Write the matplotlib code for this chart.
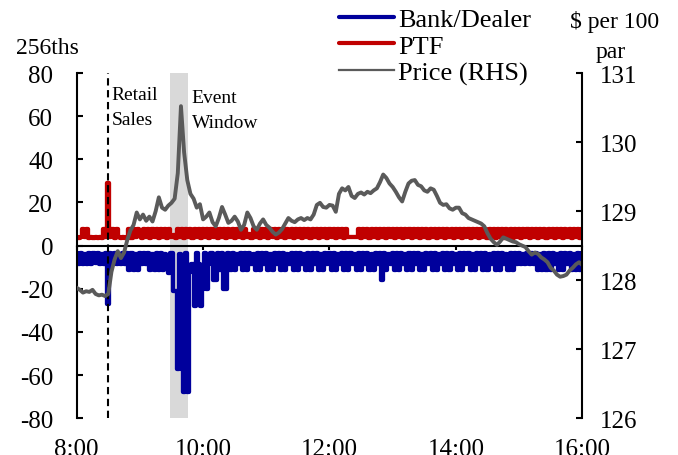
import numpy as np
import matplotlib
matplotlib.use("Agg")
import matplotlib.pyplot as plt
from matplotlib.lines import Line2D

plt.rcParams['font.family'] = ['Liberation Serif', 'DejaVu Serif']
plt.rcParams['axes.unicode_minus'] = False
plt.rcParams['path.simplify'] = False   # keep every back-and-forth step

# order flow in 256ths, one value every 2 minutes from 8:00 to 16:00
flow_step = 2
bank_dealer = [
    -3.6, -8.7, -3.6, -8.5, -3.8, -8.7, -3.6, -8.7, -3.6, -8.2, -3.6, -8.7, -3.8, -8.7, -3.6,
    -27, -3.6, -8.7, -3.6, -8.7, -3.8, -8.5, -3.6, -8.7, -3.6, -11.5, -3.6, -11.5, -3.8, -11.5,
    -3.6, -8.7, -3.6, -8.7, -3.6, -11.5, -3.8, -11.5, -3.6, -11.5, -3.6, -11.5, -3.8, -8.7, -12.5,
    -3.6, -21, -21, -57, -3.8, -57, -68, -3.6, -68, -12, -8.7, -28, -3.6, -8.7, -28,
    -20, -3.6, -20, -8.7, -3.6, -16, -16, -3.6, -11.5, -3.6, -20, -20, -3.6, -11.5, -3.6,
    -11.5, -3.8, -8.7, -3.6, -11.5, -3.6, -11.5, -3.6, -8.7, -3.8, -11.5, -3.6, -11.5, -3.6, -8.7,
    -3.6, -11.5, -3.8, -11.5, -3.6, -8.7, -3.6, -11.5, -3.6, -11.5, -3.8, -8.7, -3.6, -11.5, -3.6,
    -11.5, -3.6, -8.7, -3.8, -11.5, -3.6, -11.5, -3.6, -8.7, -3.6, -11.5, -3.8, -11.5, -3.6, -8.7,
    -3.6, -11.5, -3.6, -11.5, -3.8, -8.7, -3.6, -11.5, -3.6, -11.5, -3.6, -8.7, -3.8, -11.5, -3.6,
    -11.5, -3.6, -8.7, -3.6, -11.5, -3.8, -11.5, -3.6, -8.7, -3.6, -16, -3.6, -11.5, -3.8, -8.7,
    -3.6, -11.5, -3.6, -11.5, -3.6, -8.7, -3.8, -11.5, -3.6, -11.5, -3.6, -8.7, -3.6, -11.5, -3.8,
    -11.5, -3.6, -8.7, -3.6, -11.5, -3.6, -11.5, -3.8, -8.7, -3.6, -11.5, -3.6, -11.5, -3.6, -8.7,
    -3.8, -11.5, -3.6, -11.5, -3.6, -8.7, -3.6, -11.5, -3.8, -11.5, -3.6, -8.7, -3.6, -11.5, -3.6,
    -11.5, -3.8, -8.7, -3.6, -11.5, -3.6, -11.5, -3.6, -8.7, -3.8, -11.5, -3.6, -11.5, -3.6, -8.7,
    -3.6, -8.7, -3.8, -8.7, -3.6, -8.5, -3.6, -8.7, -3.6, -11.5, -3.8, -11.5, -3.6, -11.5, -3.6,
    -11.5, -3.6, -8.7, -3.8, -11.5, -3.6, -11.5, -3.6, -8.7, -3.6, -11.5, -3.8, -11.5, -3.6, -11.5,
    -3.6,
]
ptf = [
    3.8, 3.6, 3.8, 7.7, 3.8, 7.7, 3.6, 3.8, 3.6, 3.8, 3.6, 3.8, 3.6, 7.7, 3.8,
    29, 3.8, 7.7, 3.6, 7.7, 3.8, 3.6, 3.8, 3.6, 3.8, 7.7, 3.6, 7.7, 3.8, 7.7,
    5.0, 3.6, 7.7, 3.8, 7.7, 3.6, 7.7, 3.8, 7.7, 3.6, 7.7, 3.8, 7.7, 3.6, 7.7,
    3.8, 4.8, 3.6, 7.7, 3.8, 7.7, 3.6, 7.7, 3.8, 7.7, 3.6, 7.7, 3.8, 7.7, 3.6,
    7.7, 3.8, 7.7, 3.6, 7.7, 3.8, 7.7, 3.6, 7.7, 3.8, 7.7, 3.6, 7.7, 3.8, 7.7,
    3.6, 7.7, 3.8, 7.7, 3.6, 7.7, 3.8, 5.2, 3.6, 7.7, 3.8, 7.7, 3.6, 7.7, 3.8,
    7.7, 3.6, 7.7, 3.8, 7.7, 3.6, 7.7, 3.8, 7.7, 3.6, 7.7, 3.8, 7.7, 3.6, 7.7,
    3.8, 7.7, 3.6, 7.7, 3.8, 7.7, 3.6, 7.7, 3.8, 7.7, 3.6, 7.7, 3.8, 7.7, 3.6,
    7.7, 3.8, 7.7, 3.6, 7.7, 3.8, 7.7, 3.6, 7.7, 3.8, 4.2, 4.0, 4.2, 3.8, 7.7,
    3.6, 7.7, 3.8, 7.7, 3.6, 7.7, 3.8, 7.7, 3.6, 7.7, 3.8, 7.7, 3.6, 7.7, 3.8,
    7.7, 3.6, 7.7, 3.8, 7.7, 3.6, 7.7, 3.8, 7.7, 3.6, 7.7, 3.8, 7.7, 3.6, 7.7,
    3.8, 7.7, 3.6, 7.7, 3.8, 7.7, 3.6, 7.7, 3.8, 7.7, 3.6, 7.7, 3.8, 7.7, 3.6,
    7.7, 3.8, 7.7, 3.6, 7.7, 3.8, 7.7, 3.6, 7.7, 3.8, 7.7, 3.6, 7.7, 3.8, 7.7,
    3.6, 7.7, 3.8, 7.7, 3.6, 7.7, 3.8, 7.7, 3.6, 7.7, 3.8, 7.7, 3.6, 7.7, 3.8,
    7.7, 3.6, 7.7, 3.8, 7.7, 3.6, 7.7, 3.8, 7.7, 3.6, 7.7, 3.8, 7.7, 3.6, 7.7,
    3.8, 7.7, 3.6, 7.7, 3.8, 7.7, 3.6, 7.7, 3.8, 7.7, 3.6, 7.7, 3.8, 7.7, 3.6,
    7.7,
]

# price in $ per 100 par, one value every 3 minutes
price_step = 3
price = [
    127.89, 127.86, 127.82, 127.84, 127.83, 127.86, 127.80, 127.78, 127.79, 127.77,
    127.80, 128.12, 128.30, 128.42, 128.32, 128.40, 128.58, 128.72, 128.80, 128.98,
    128.88, 128.95, 128.86, 128.92, 128.85, 129.00, 129.20, 129.05, 129.02, 129.08,
    129.12, 129.18, 129.55, 130.52, 129.85, 129.45, 129.25, 129.18, 129.05, 129.10,
    128.88, 128.92, 128.98, 128.84, 128.78, 128.90, 129.06, 128.95, 128.83, 128.86,
    128.92, 128.85, 128.73, 128.80, 128.98, 128.90, 128.78, 128.73, 128.82, 128.88,
    128.80, 128.76, 128.70, 128.66, 128.69, 128.74, 128.82, 128.90, 128.86, 128.84,
    128.88, 128.90, 128.87, 128.90, 128.88, 128.95, 129.09, 129.12, 129.06, 129.05,
    129.09, 129.08, 128.99, 129.25, 129.33, 129.30, 129.35, 129.22, 129.19, 129.25,
    129.27, 129.24, 129.28, 129.26, 129.30, 129.33, 129.42, 129.53, 129.48, 129.40,
    129.35, 129.28, 129.20, 129.14, 129.28, 129.40, 129.44, 129.45, 129.38, 129.36,
    129.30, 129.28, 129.33, 129.31, 129.22, 129.12, 129.09, 129.10, 129.04, 129.02,
    129.05, 129.05, 128.97, 128.95, 128.90, 128.88, 128.86, 128.84, 128.82, 128.78,
    128.68, 128.60, 128.55, 128.51, 128.56, 128.62, 128.60, 128.58, 128.56, 128.55,
    128.52, 128.50, 128.48, 128.42, 128.37, 128.40, 128.38, 128.33, 128.30, 128.26,
    128.18, 128.14, 128.08, 128.05, 128.06, 128.08, 128.14, 128.18, 128.23, 128.26,
    128.22,
]

tick_minutes = [0, 120, 240, 360, 480]
tick_labels = ['8:00', '10:00', '12:00', '14:00', '16:00']
retail_sales = 30          # 8:30
event_window = (88.5, 105.5)

blue = '#00009C'
red = '#C00000'
grey = '#5A5A5A'

flow_t = np.arange(len(bank_dealer)) * flow_step
price_t = np.arange(len(price)) * price_step

fig = plt.figure(figsize=(6.78, 4.56), dpi=100)
ax = fig.add_axes([0.1131, 0.0805, 0.7457, 0.7572])
ax2 = ax.twinx()

ax.axvspan(event_window[0], event_window[1], color='#D9D9D9', lw=0, zorder=0)
# minute data drawn as steps so the thick line fills a solid band
ax.plot(flow_t, ptf, color=red, lw=3.1, drawstyle='steps-mid',
        solid_joinstyle='round', solid_capstyle='round', zorder=2)
ax.plot(flow_t, bank_dealer, color=blue, lw=3.1, drawstyle='steps-mid',
        solid_joinstyle='round', solid_capstyle='round', zorder=2)
ax.axvline(retail_sales, color='black', lw=1.5, ls=(0, (3.5, 2.2)), zorder=3)
ax2.plot(price_t, price, color=grey, lw=2.8, solid_joinstyle='round')

ax.set_xlim(0, 480)
ax.set_ylim(-80, 80)
ax2.set_ylim(126, 131)

for s in ['top', 'right']:
    ax.spines[s].set_visible(False)
for s in ['top', 'bottom', 'left']:
    ax2.spines[s].set_visible(False)
ax.spines['bottom'].set_position(('data', 0))
for s in [ax.spines['left'], ax.spines['bottom'], ax2.spines['right']]:
    s.set_linewidth(1.5)

ax.set_xticks(tick_minutes)
ax.tick_params(axis='x', direction='out', length=3, width=1.5, labelbottom=False)
sec = ax.secondary_xaxis('bottom')
sec.set_xticks(tick_minutes, tick_labels)
sec.tick_params(length=0, pad=14, labelsize=18)
sec.spines['bottom'].set_visible(False)

ax.set_yticks(range(-80, 81, 20))
ax.tick_params(axis='y', direction='in', length=4.5, width=1.5, pad=17, labelsize=18)
ax2.set_yticks(range(126, 132))
ax2.tick_params(axis='y', direction='in', length=4.5, width=1.5, pad=12.5, labelsize=18)

ax.text(33, 67.9, 'Retail', fontsize=14, va='baseline')
ax.text(33, 56.4, 'Sales', fontsize=14, va='baseline')
ax.text(109, 66.4, 'Event', fontsize=14, va='baseline')
ax.text(109, 54.8, 'Window', fontsize=14, va='baseline')

fig.text(47.5 / 678, 1 - 54 / 456, '256ths', fontsize=17, ha='center', va='baseline')
fig.text(615 / 678, 1 - 28.3 / 456, '$ per 100', fontsize=17, ha='center', va='baseline')
fig.text(611 / 678, 1 - 58.3 / 456, 'par', fontsize=17, ha='center', va='baseline')

handles = [Line2D([], [], color=blue, lw=3, solid_capstyle='round'),
           Line2D([], [], color=red, lw=3, solid_capstyle='round'),
           Line2D([], [], color=grey, lw=1.6)]
fig.legend(handles, ['Bank/Dealer', 'PTF', 'Price (RHS)'], loc='upper left',
           bbox_to_anchor=(339 / 678, 1 - 8.5 / 456), frameon=False, fontsize=19,
           handlelength=2.1, handletextpad=0.15, labelspacing=0.12,
           borderpad=0, borderaxespad=0)

fig.savefig('out.png', dpi=100)
